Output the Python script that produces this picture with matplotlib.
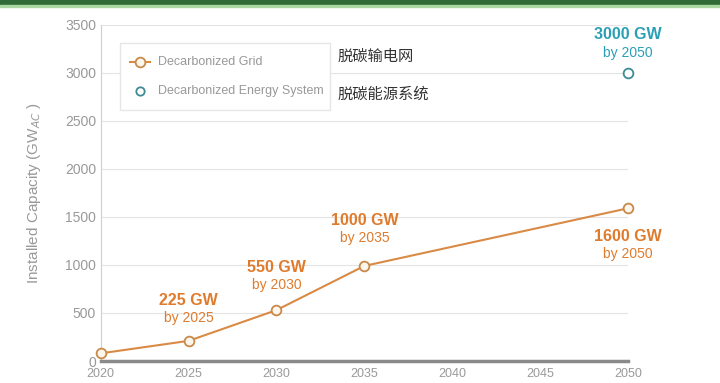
import matplotlib.pyplot as plt
from matplotlib.patches import Rectangle

years = [2020, 2025, 2030, 2035, 2050]
grid_gw = [80, 210, 530, 990, 1590]
system_year = [2050]
system_gw = [3000]
xticks = [2020, 2025, 2030, 2035, 2040, 2045, 2050]
yticks = [0, 500, 1000, 1500, 2000, 2500, 3000, 3500]

# 标注文字 (x, 小字行的 y, 大字, 小字)
note_x = [2025, 2030, 2035, 2050, 2050]
note_y = [450, 790, 1280, 1115, 3210]
note_big = ['225 GW', '550 GW', '1000 GW', '1600 GW', '3000 GW']
note_small = ['by 2025', 'by 2030', 'by 2035', 'by 2050', 'by 2050']

orange = '#d98a45'
orange_txt = '#e07b2c'
teal = '#2ba0b5'
gray = '#999999'

plt.rcParams['font.family'] = ['Liberation Sans', 'Noto Sans CJK SC', 'DejaVu Sans']

fig = plt.figure(figsize=(7.2, 3.83), dpi=100)
ax = fig.add_axes([0.140, 0.0574, 0.732, 0.8776])

# 顶部绿色条
fig.patches.append(Rectangle((0, 0.988), 1, 0.012, transform=fig.transFigure,
                             color='#2f6b36', zorder=0))
fig.patches.append(Rectangle((0, 0.982), 1, 0.006, transform=fig.transFigure,
                             color='#a9d8a0', zorder=0))

ax.plot(years, grid_gw, color=orange, lw=1.5, marker='o', ms=7,
        mfc='#fdf6ec', mec='#c88a4a', mew=1.3, zorder=3, clip_on=False)
ax.plot(system_year, system_gw, ls='none', marker='o', ms=7,
        mfc='white', mec='#3f8a95', mew=1.3, zorder=3, clip_on=False)

ax.set_xlim(2020, 2050)
ax.set_ylim(0, 3500)
ax.set_xticks(xticks)
ax.set_yticks(yticks)
ax.yaxis.grid(True, color='#e4e4e4', lw=0.8)
ax.set_axisbelow(True)
for s in ['top', 'right']:
    ax.spines[s].set_visible(False)
ax.spines['left'].set_color('#cfcfcf')
ax.spines['bottom'].set_color('#8a8a8a')
ax.spines['bottom'].set_linewidth(2.5)
ax.tick_params(axis='both', colors=gray, labelsize=10, length=0)
ax.tick_params(axis='x', pad=5, labelsize=9)
ax.set_ylabel('Installed Capacity (GW$_{AC}$ )', color=gray, fontsize=11,
              labelpad=16)

for x, y, big, small in zip(note_x, note_y, note_big, note_small):
    c = teal if big == '3000 GW' else orange_txt
    ax.text(x, y + 185, big, color=c, fontsize=11.5, fontweight='bold',
            ha='center', va='center', clip_on=False)
    ax.text(x, y, small, color=c, fontsize=10, ha='center', va='center',
            clip_on=False)

# 图例
fig.patches.append(Rectangle((120 / 720, 1 - 110 / 383), 210 / 720, 67 / 383,
                             transform=fig.transFigure, fc='white',
                             ec='#e6e6e6', lw=1, zorder=2))
fig.lines.append(plt.Line2D([130 / 720, 150 / 720], [1 - 62 / 383] * 2,
                            transform=fig.transFigure, color=orange, lw=1.5,
                            zorder=3))
fig.lines.append(plt.Line2D([140 / 720], [1 - 62 / 383], transform=fig.transFigure,
                            ls='none', marker='o', ms=7, mfc='#fdf6ec',
                            mec='#c88a4a', mew=1.3, zorder=4))
fig.lines.append(plt.Line2D([140 / 720], [1 - 91 / 383], transform=fig.transFigure,
                            ls='none', marker='o', ms=6, mfc='white',
                            mec='#3f8a95', mew=1.3, zorder=4))
fig.text(158 / 720, 1 - 62 / 383, 'Decarbonized Grid', color=gray, fontsize=9,
         va='center', zorder=5)
fig.text(158 / 720, 1 - 91 / 383, 'Decarbonized Energy System', color=gray,
         fontsize=9, va='center', zorder=5)
fig.text(338 / 720, 1 - 56 / 383, '脱碳输电网', color='#333333', fontsize=11,
         va='center', family=['Noto Sans CJK SC', 'DejaVu Sans'])
fig.text(338 / 720, 1 - 94 / 383, '脱碳能源系统', color='#333333', fontsize=11,
         va='center', family=['Noto Sans CJK SC', 'DejaVu Sans'])

fig.savefig('out.png', dpi=100, facecolor='white')
